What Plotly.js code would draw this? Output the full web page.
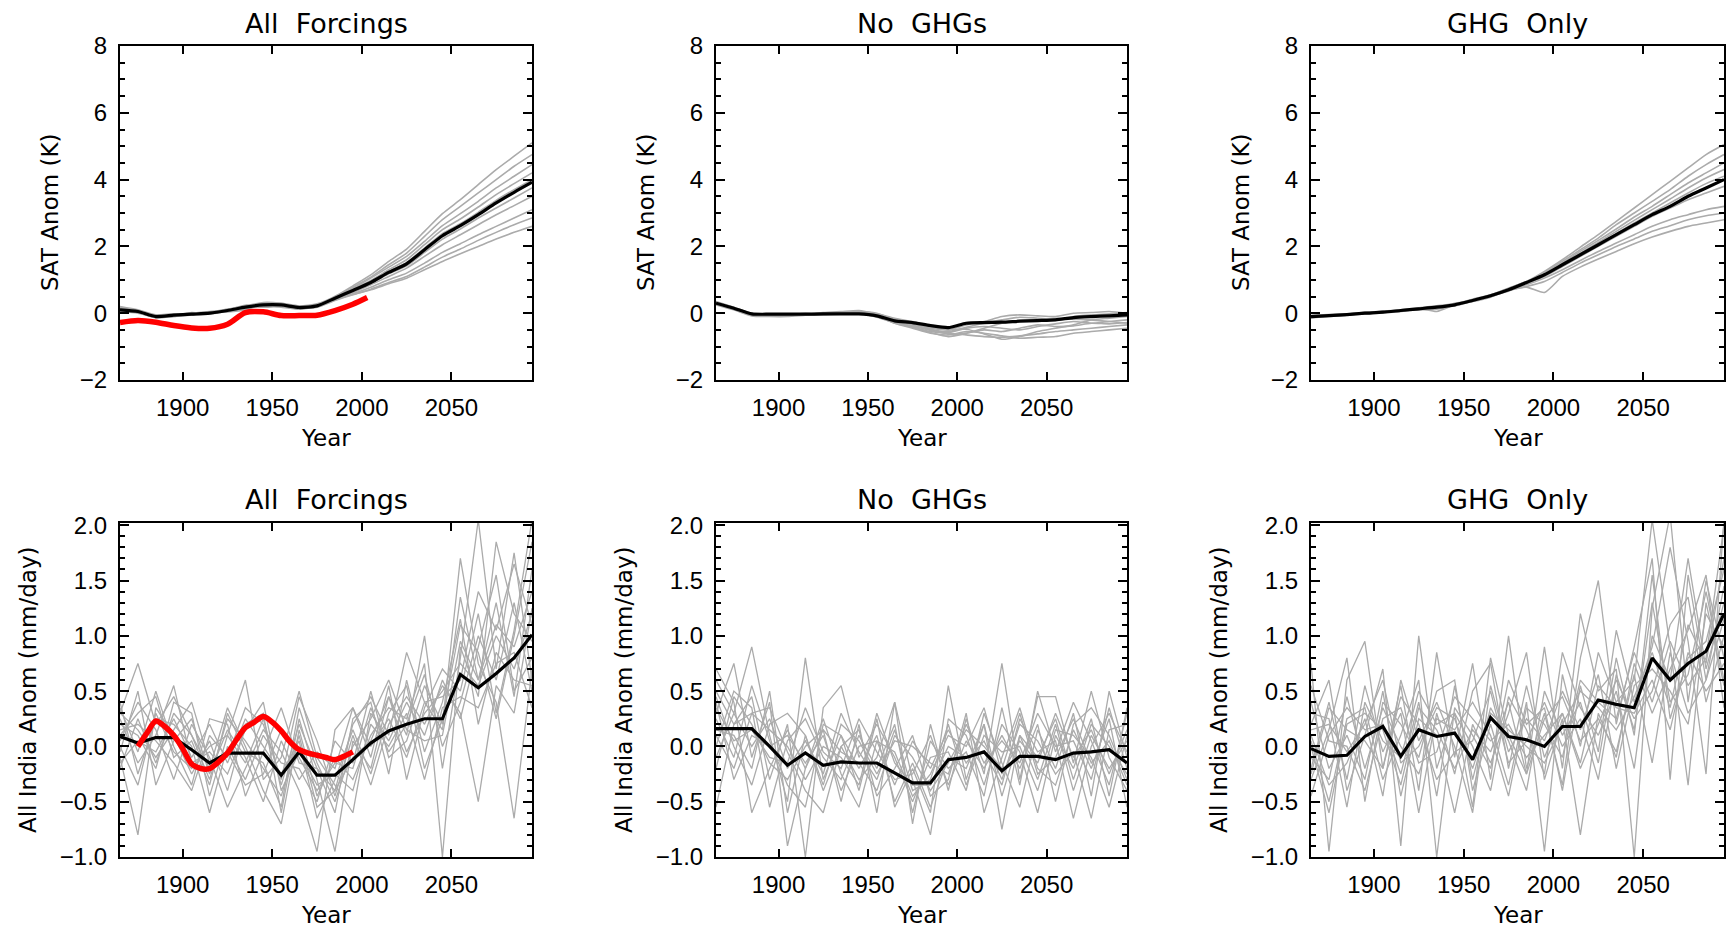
<!DOCTYPE html>
<html>
<head>
<meta charset="utf-8">
<script src="https://cdn.plot.ly/plotly-3.0.1.min.js"></script>
<style>html,body{margin:0;padding:0;background:#fff;}#chart{width:1727px;height:930px;}</style>
</head>
<body>
<div id="chart"></div>
<script>
// Decade centres
const years = [1865,1875,1885,1895,1905,1915,1925,1935,1945,1955,1965,1975,1985,1995,2005,2015,2025,2035,2045,2055,2065,2075,2085,2095];
const obsTempYears = [1865,1875,1885,1895,1905,1915,1925,1935,1945,1955,1965,1975,1985,1995,2003];
const obsRainYears = [1875,1880,1885,1890,1895,1900,1905,1910,1915,1920,1925,1930,1935,1940,1945,1950,1955,1960,1965,1970,1975,1980,1985,1990,1995];

const panelTitles = ["All\u00a0\u00a0Forcings", "No\u00a0\u00a0GHGs", "GHG\u00a0\u00a0Only"];
const tempAxisTitle = "SAT Anom (K)";
const rainAxisTitle = "All India Anom (mm/day)";
const xAxisTitle = "Year";
const xTickVals = [1900, 1950, 2000, 2050];

// ---------- Surface air temperature (top row) ----------
const afTempMean = [0.10,0.05,-0.10,-0.06,-0.03,0.00,0.08,0.18,0.25,0.25,0.17,0.22,0.45,0.68,0.92,1.22,1.48,1.90,2.32,2.62,2.95,3.30,3.62,3.92];
const afTempObs = [-0.28,-0.22,-0.27,-0.37,-0.44,-0.45,-0.33,0.02,0.04,-0.07,-0.07,-0.06,0.08,0.27,0.47];
const afTempMembers = [
 [0.18,0.08,-0.08,-0.05,0.00,0.02,0.12,0.22,0.32,0.30,0.22,0.28,0.50,0.82,1.15,1.55,1.92,2.45,2.98,3.40,3.85,4.30,4.70,5.10],
 [0.05,0.00,-0.12,-0.10,-0.05,0.03,0.05,0.15,0.22,0.28,0.20,0.25,0.48,0.78,1.08,1.45,1.80,2.30,2.80,3.20,3.60,4.00,4.40,4.75],
 [0.20,0.10,-0.05,-0.02,-0.06,-0.02,0.10,0.20,0.28,0.20,0.15,0.20,0.50,0.75,1.05,1.38,1.70,2.15,2.62,2.98,3.35,3.75,4.10,4.45],
 [0.08,0.02,-0.14,-0.08,0.00,0.05,0.06,0.14,0.30,0.25,0.12,0.20,0.44,0.72,0.98,1.30,1.60,2.05,2.50,2.82,3.18,3.55,3.88,4.20],
 [0.12,0.06,-0.08,-0.04,-0.02,-0.03,0.10,0.24,0.20,0.22,0.20,0.18,0.46,0.70,0.95,1.25,1.52,1.95,2.38,2.68,3.02,3.38,3.70,4.00],
 [0.06,0.04,-0.12,-0.06,-0.04,0.02,0.04,0.10,0.26,0.30,0.18,0.24,0.42,0.65,0.90,1.18,1.42,1.82,2.22,2.52,2.85,3.15,3.45,3.75],
 [0.15,0.08,-0.06,-0.10,-0.02,0.00,0.08,0.20,0.18,0.20,0.14,0.22,0.44,0.62,0.85,1.10,1.35,1.70,2.05,2.35,2.65,2.95,3.22,3.50],
 [0.10,0.02,-0.10,-0.05,-0.05,0.04,0.12,0.16,0.22,0.26,0.16,0.20,0.40,0.58,0.78,1.00,1.20,1.50,1.82,2.08,2.35,2.60,2.85,3.10],
 [0.14,0.06,-0.10,-0.08,0.02,-0.02,0.06,0.18,0.24,0.18,0.12,0.25,0.42,0.56,0.72,0.92,1.10,1.38,1.68,1.92,2.18,2.42,2.65,2.85],
 [0.04,0.03,-0.12,-0.04,-0.03,0.01,0.09,0.12,0.28,0.24,0.20,0.18,0.38,0.55,0.70,0.88,1.05,1.30,1.55,1.78,2.00,2.22,2.42,2.60]
];

const ngTempMean = [0.30,0.15,-0.02,-0.03,-0.03,-0.03,-0.02,-0.02,-0.02,-0.08,-0.23,-0.28,-0.37,-0.43,-0.30,-0.28,-0.27,-0.24,-0.22,-0.20,-0.13,-0.10,-0.08,-0.05];
const ngTempMembers = [
 [0.30,0.12,-0.05,-0.08,-0.05,-0.02,0.00,0.00,0.05,0.00,-0.20,-0.35,-0.50,-0.60,-0.65,-0.70,-0.72,-0.68,-0.62,-0.55,-0.50,-0.45,-0.40,-0.35],
 [0.25,0.10,-0.08,-0.10,-0.10,-0.06,-0.03,0.02,0.00,-0.05,-0.30,-0.45,-0.60,-0.65,-0.55,-0.60,-0.68,-0.75,-0.72,-0.70,-0.60,-0.55,-0.50,-0.45],
 [0.35,0.18,0.00,-0.05,-0.02,-0.04,0.02,0.05,0.08,-0.02,-0.15,-0.25,-0.40,-0.50,-0.35,-0.25,-0.10,-0.05,-0.08,-0.10,0.00,0.02,0.05,0.00],
 [0.28,0.14,-0.04,-0.06,-0.08,-0.02,-0.05,-0.03,0.00,-0.12,-0.28,-0.40,-0.55,-0.58,-0.45,-0.40,-0.45,-0.50,-0.40,-0.32,-0.25,-0.30,-0.25,-0.20],
 [0.32,0.16,-0.02,-0.02,-0.04,0.00,-0.02,0.03,0.02,-0.08,-0.20,-0.30,-0.48,-0.55,-0.42,-0.30,-0.20,-0.12,-0.15,-0.18,-0.10,-0.05,-0.02,0.02],
 [0.27,0.11,-0.06,-0.07,-0.06,-0.05,-0.04,-0.02,-0.03,-0.10,-0.25,-0.38,-0.52,-0.62,-0.60,-0.50,-0.55,-0.45,-0.35,-0.40,-0.38,-0.30,-0.32,-0.28],
 [0.33,0.17,-0.01,-0.04,-0.02,-0.03,0.01,0.01,0.04,-0.06,-0.22,-0.32,-0.45,-0.50,-0.48,-0.62,-0.78,-0.70,-0.55,-0.45,-0.35,-0.20,-0.15,-0.10],
 [0.29,0.13,-0.03,-0.05,-0.07,-0.04,-0.01,0.00,-0.01,-0.10,-0.30,-0.42,-0.58,-0.70,-0.60,-0.45,-0.30,-0.22,-0.20,-0.15,-0.18,-0.20,-0.25,-0.30]
];

const ghgTempMean = [-0.10,-0.07,-0.04,0.00,0.03,0.08,0.13,0.18,0.25,0.38,0.52,0.70,0.92,1.15,1.45,1.75,2.05,2.35,2.65,2.95,3.20,3.50,3.75,4.00];
const ghgTempMembers = [
 [-0.08,-0.05,-0.02,0.02,0.06,0.10,0.16,0.22,0.28,0.42,0.55,0.75,0.95,1.25,1.60,1.98,2.35,2.75,3.15,3.55,3.95,4.35,4.75,5.05],
 [-0.12,-0.10,-0.06,-0.02,0.02,0.06,0.12,0.20,0.22,0.40,0.50,0.72,0.92,1.20,1.55,1.90,2.25,2.65,3.00,3.35,3.70,4.10,4.45,4.75],
 [-0.06,-0.04,-0.03,0.03,0.05,0.10,0.15,0.16,0.30,0.36,0.55,0.68,0.90,1.18,1.50,1.85,2.18,2.52,2.88,3.20,3.55,3.90,4.20,4.50],
 [-0.14,-0.09,-0.05,0.01,0.02,0.07,0.10,0.12,0.24,0.40,0.54,0.74,0.95,1.15,1.48,1.80,2.12,2.45,2.78,3.10,3.42,3.75,4.05,4.30],
 [-0.10,-0.06,-0.02,-0.01,0.04,0.09,0.14,0.20,0.26,0.35,0.48,0.70,0.88,1.12,1.42,1.72,2.05,2.38,2.70,3.00,3.30,3.60,3.88,4.10],
 [-0.09,-0.08,-0.06,0.00,0.01,0.05,0.15,0.05,0.25,0.38,0.52,0.66,0.90,1.10,1.40,1.70,2.00,2.30,2.60,2.90,3.15,3.40,3.60,3.80],
 [-0.11,-0.06,-0.03,0.02,0.05,0.08,0.12,0.20,0.22,0.36,0.50,0.70,0.85,1.05,1.30,1.58,1.85,2.10,2.35,2.60,2.80,2.95,3.10,3.20],
 [-0.12,-0.08,-0.04,-0.02,0.03,0.08,0.11,0.17,0.27,0.39,0.53,0.68,0.80,0.95,1.22,1.50,1.75,2.00,2.22,2.45,2.62,2.80,2.92,3.00],
 [-0.10,-0.07,-0.05,0.01,0.02,0.09,0.14,0.19,0.24,0.37,0.50,0.69,0.78,0.62,1.10,1.38,1.62,1.85,2.08,2.28,2.45,2.60,2.70,2.80]
];

// ---------- All India rainfall (bottom row) ----------
const afRainMean = [0.09,0.03,0.08,0.08,-0.03,-0.15,-0.06,-0.06,-0.06,-0.26,-0.05,-0.26,-0.26,-0.12,0.03,0.14,0.20,0.25,0.25,0.65,0.53,0.66,0.80,1.01];
const afRainObs = [0.00,0.12,0.23,0.18,0.10,-0.02,-0.16,-0.20,-0.20,-0.14,-0.06,0.06,0.17,0.22,0.27,0.22,0.14,0.04,-0.03,-0.06,-0.08,-0.10,-0.12,-0.09,-0.05];
const afRainMembers = [
 [0.30,0.75,0.20,0.45,0.10,-0.30,0.25,0.05,-0.20,-0.45,0.10,-0.55,-0.40,0.20,0.45,0.10,0.85,0.40,0.15,1.35,0.60,1.10,0.90,1.40],
 [-0.10,-0.80,0.35,0.10,-0.25,0.05,-0.40,0.20,0.30,-0.60,0.25,-0.30,-0.95,0.05,-0.20,0.45,0.10,1.00,-0.20,0.80,2.05,0.70,1.75,0.60],
 [0.20,0.10,-0.20,0.40,0.30,-0.45,0.10,0.60,-0.30,-0.10,0.50,-0.10,-0.35,-0.60,0.30,0.05,0.40,0.10,0.60,0.25,0.90,1.55,0.50,0.80],
 [0.05,0.40,0.15,-0.30,0.20,-0.10,-0.55,-0.20,0.15,-0.05,-0.40,-0.95,0.15,0.35,-0.10,0.55,-0.30,0.35,0.70,0.50,1.20,0.30,1.05,2.05],
 [0.35,-0.05,0.50,0.00,-0.35,0.25,0.20,-0.45,-0.05,0.35,-0.15,-0.20,-0.60,0.25,0.40,-0.25,0.60,-0.05,0.40,1.15,0.20,0.85,0.60,0.55],
 [-0.20,0.25,-0.15,0.30,0.10,-0.20,0.35,0.00,-0.40,-0.70,0.15,-0.45,-0.10,-0.30,0.10,0.35,0.25,0.75,-1.00,0.90,0.45,1.85,1.20,0.95],
 [0.15,0.20,0.05,-0.15,-0.40,0.10,-0.10,0.35,0.20,-0.30,0.45,0.05,-0.45,0.10,-0.35,0.20,0.45,0.20,0.55,0.30,-0.50,0.55,0.30,1.25],
 [0.40,-0.25,0.25,0.20,0.00,-0.60,0.00,-0.30,0.10,-0.15,-0.20,-0.50,0.05,-0.15,0.50,-0.10,0.05,0.55,0.20,1.70,0.75,0.40,-0.65,0.70],
 [-0.05,0.50,-0.35,0.05,0.25,-0.25,0.15,-0.10,-0.50,0.05,-0.30,-0.05,-0.20,0.35,0.00,0.25,-0.10,0.40,0.45,0.60,1.40,1.05,1.65,1.10],
 [0.25,-0.15,0.10,0.55,-0.15,-0.05,-0.25,0.15,0.40,-0.40,-0.05,-0.35,-0.25,-0.40,0.20,0.00,0.30,-0.30,0.35,0.45,0.35,0.75,0.85,0.35],
 [0.10,0.30,0.45,-0.10,0.05,-0.35,0.30,-0.05,-0.15,-0.55,0.35,-0.15,-0.50,0.00,0.25,0.60,0.15,0.05,0.10,0.95,0.60,1.30,0.45,1.60],
 [-0.15,0.05,-0.05,0.25,-0.10,0.20,-0.15,0.25,0.00,-0.25,0.05,-0.65,-0.30,0.15,-0.25,0.30,0.55,-0.20,0.25,1.10,0.85,0.25,1.00,1.85],
 [0.30,0.15,-0.10,0.15,0.40,-0.15,-0.05,-0.35,-0.25,0.15,-0.10,-0.40,-0.15,-0.20,0.35,-0.05,0.20,0.65,0.00,0.40,1.00,0.60,1.30,0.50],
 [0.00,-0.35,0.30,-0.05,-0.20,0.00,0.10,-0.15,0.25,-0.35,0.20,-0.20,-0.40,-0.10,0.05,0.45,-0.05,0.30,0.50,0.75,0.55,1.00,0.70,1.20]
];

const ngRainMean = [0.16,0.16,0.16,0.00,-0.17,-0.06,-0.17,-0.14,-0.15,-0.15,-0.24,-0.33,-0.33,-0.12,-0.10,-0.05,-0.22,-0.09,-0.09,-0.12,-0.06,-0.05,-0.03,-0.15];
const ngRainMembers = [
 [0.60,0.30,0.90,0.10,-0.50,0.80,-0.30,0.10,-0.40,0.25,-0.55,-0.20,-0.60,0.55,-0.30,0.20,-0.45,0.10,-0.30,0.20,-0.40,0.10,-0.20,0.05],
 [0.30,0.75,-0.10,0.40,-0.90,-0.20,0.15,-0.50,0.20,-0.60,0.40,-0.70,0.20,-0.40,0.25,-0.25,0.75,-0.30,0.45,0.45,-0.15,0.50,-0.10,-0.40],
 [-0.55,0.20,0.45,-0.30,0.20,-1.00,0.35,0.55,-0.10,0.20,-0.10,-0.50,-0.10,-0.05,-0.40,0.30,-0.15,-0.55,0.15,-0.20,0.30,-0.45,0.50,-0.10],
 [0.10,-0.20,0.30,0.35,-0.05,-0.40,-0.60,0.00,-0.30,-0.10,0.40,-0.30,-0.80,0.25,0.10,-0.35,0.20,-0.05,-0.60,0.10,-0.20,0.25,-0.45,0.35],
 [0.45,0.00,-0.35,0.20,0.30,0.10,-0.40,0.00,0.15,-0.45,-0.20,0.10,-0.45,-0.30,0.30,-0.60,-0.10,0.35,-0.20,-0.35,0.15,-0.20,0.25,-0.55],
 [0.70,0.40,-0.60,-0.20,0.15,-0.20,0.25,-0.25,-0.55,0.05,-0.35,0.05,-0.20,0.15,-0.15,0.05,-0.30,0.20,0.05,-0.25,-0.05,-0.65,0.15,0.20],
 [0.00,0.50,0.35,-0.55,0.05,0.25,-0.10,-0.30,0.10,-0.20,0.20,-0.60,0.05,-0.20,-0.05,-0.45,0.35,-0.35,0.50,-0.05,0.40,0.05,-0.35,0.30],
 [0.25,-0.10,0.55,0.05,-0.35,-0.55,0.20,0.10,-0.20,0.10,-0.50,-0.15,-0.55,-0.10,-0.20,0.20,-0.75,0.10,-0.10,0.25,-0.30,0.20,0.00,-0.25],
 [-0.10,0.30,0.00,0.25,-0.20,0.05,-0.25,0.30,-0.05,-0.30,0.15,-0.40,-0.30,0.20,-0.35,0.10,-0.05,0.00,-0.40,0.15,0.10,-0.10,-0.55,0.10],
 [0.35,0.05,0.15,-0.10,-0.15,0.35,-0.05,-0.20,0.25,-0.05,-0.30,-0.25,0.10,-0.35,0.05,-0.20,0.10,-0.20,0.20,-0.50,0.20,0.35,0.10,-0.30],
 [0.50,0.20,0.30,0.15,0.00,-0.30,0.00,-0.10,-0.35,0.30,-0.15,-0.35,-0.35,0.00,-0.10,-0.05,-0.35,0.25,-0.05,0.05,-0.65,0.00,0.30,-0.05],
 [0.15,0.10,-0.20,0.50,-0.60,0.10,-0.35,0.20,0.05,-0.25,0.05,0.00,-0.15,-0.25,0.20,-0.15,0.05,-0.15,0.30,0.00,0.05,-0.30,0.35,-0.20],
 [0.40,-0.30,0.10,0.00,0.10,-0.15,0.10,-0.40,0.00,0.05,-0.05,-0.45,-0.25,0.10,0.00,0.35,-0.25,0.05,-0.15,0.30,-0.10,0.15,-0.25,0.15],
 [-0.20,0.45,0.20,-0.15,-0.30,0.00,0.15,-0.05,-0.15,-0.40,0.10,-0.10,-0.40,-0.15,0.15,0.00,-0.20,0.30,-0.25,-0.10,0.25,-0.15,0.05,-0.35]
];

const ghgRainMean = [-0.02,-0.09,-0.08,0.09,0.18,-0.09,0.15,0.09,0.12,-0.12,0.26,0.09,0.06,0.00,0.18,0.18,0.42,0.38,0.35,0.80,0.60,0.75,0.86,1.20];
const ghgRainMembers = [
 [0.75,-0.95,0.60,0.95,-0.20,0.55,-0.40,0.85,-0.10,0.75,-0.30,1.00,-0.20,0.30,-0.35,0.80,1.50,0.20,0.90,1.70,-0.30,1.55,0.60,1.45],
 [0.20,0.60,-0.40,0.10,0.70,-0.90,1.00,-0.20,0.30,-0.55,0.80,0.10,-0.25,0.90,-0.20,1.20,0.50,0.70,-1.00,1.25,2.10,0.40,1.50,0.80],
 [-0.30,0.15,0.80,-0.50,0.40,0.20,-0.10,0.50,0.60,-0.40,0.20,-0.35,0.40,-0.95,0.65,0.00,0.85,0.40,0.60,2.05,0.90,-0.35,1.30,0.55],
 [0.05,-0.50,0.25,0.35,-0.30,0.10,0.60,-1.00,0.35,0.10,-0.20,0.60,0.20,0.35,-0.40,0.55,-0.05,1.05,0.40,0.90,1.80,0.95,-0.25,2.05],
 [-0.20,0.40,-0.30,0.55,-0.05,0.30,-0.60,0.30,-0.25,0.50,0.75,-0.20,0.55,-0.10,0.30,-0.20,0.20,0.60,0.25,0.50,1.10,1.35,0.40,1.00],
 [0.40,-0.20,0.10,-0.30,0.50,-0.45,0.25,0.10,-0.60,0.20,-0.15,0.30,0.85,-0.30,0.25,-0.80,0.30,-0.10,0.75,0.30,0.70,1.05,1.55,0.35],
 [-0.45,0.10,0.35,0.15,0.20,-0.25,0.40,-0.45,0.55,-0.30,0.35,0.05,-0.40,0.50,0.10,0.40,-0.15,0.80,0.10,1.55,0.25,0.80,0.95,1.60],
 [0.10,-0.35,-0.15,0.25,-0.45,0.60,0.05,0.40,0.00,-0.60,0.55,-0.05,0.25,0.05,0.50,0.15,0.65,-0.20,0.55,0.70,0.50,0.20,1.20,0.90],
 [0.30,0.25,-0.55,0.40,0.05,-0.10,0.50,0.20,0.30,0.00,-0.40,0.45,0.15,-0.25,0.85,0.35,0.10,0.50,-0.20,1.00,0.60,1.70,0.70,1.30],
 [-0.10,-0.30,0.45,-0.20,0.35,0.00,-0.25,0.25,0.15,0.40,0.10,-0.45,0.35,0.20,-0.10,0.60,0.40,0.25,0.85,0.40,0.95,0.55,0.80,2.00],
 [0.55,0.05,0.00,-0.40,0.25,0.35,-0.15,-0.05,0.45,0.25,0.05,0.20,-0.10,0.10,0.30,-0.15,0.55,0.35,0.30,0.60,0.15,0.85,0.50,0.75],
 [-0.25,0.35,0.15,0.05,-0.20,0.45,0.20,-0.30,-0.05,0.05,0.50,-0.15,0.05,0.40,0.00,0.25,-0.30,0.65,0.15,1.30,0.40,0.65,1.40,0.60],
 [0.00,-0.60,0.20,0.30,0.15,-0.35,0.35,0.15,-0.20,0.15,-0.05,0.40,-0.25,0.25,0.45,0.05,0.25,-0.05,0.65,-0.15,0.85,0.30,0.60,1.15],
 [0.15,0.20,-0.05,0.20,0.60,-0.15,0.00,0.35,0.25,-0.20,0.30,0.15,0.00,-0.15,0.20,0.50,0.35,0.15,0.45,0.85,0.35,1.10,0.75,1.70]
];

// ---------- Build figure ----------
const W = 1727, H = 930;
const GRAY = '#ababab';
const FONT = 'Liberation Sans, Arial, sans-serif';
const TFONT = 'DejaVu Sans, sans-serif';

// panel boxes in pixels: [left, right] columns and [top, bottom] rows
const colPx = [[120, 532], [716, 1127], [1311, 1724]];
const rowPx = [[46, 380], [523, 857]];

const panels = [
  {row:0, col:0, mean:afTempMean, members:afTempMembers, obsX:obsTempYears, obs:afTempObs, kind:'temp'},
  {row:0, col:1, mean:ngTempMean, members:ngTempMembers, kind:'temp'},
  {row:0, col:2, mean:ghgTempMean, members:ghgTempMembers, kind:'temp'},
  {row:1, col:0, mean:afRainMean, members:afRainMembers, obsX:obsRainYears, obs:afRainObs, kind:'rain'},
  {row:1, col:1, mean:ngRainMean, members:ngRainMembers, kind:'rain'},
  {row:1, col:2, mean:ghgRainMean, members:ghgRainMembers, kind:'rain'}
];

const traces = [];
const layout = {
  width: W, height: H,
  margin: {l:0, r:0, t:0, b:0},
  paper_bgcolor: '#fff', plot_bgcolor: '#fff',
  showlegend: false,
  font: {family: FONT, color: '#000'},
  annotations: []
};

panels.forEach((p, i) => {
  const n = i + 1;
  const xa = 'x' + (n === 1 ? '' : n), ya = 'y' + (n === 1 ? '' : n);
  const xKey = 'xaxis' + (n === 1 ? '' : n), yKey = 'yaxis' + (n === 1 ? '' : n);
  const temp = p.kind === 'temp';
  const shape = temp ? 'spline' : 'linear';
  p.members.forEach(m => traces.push({
    x: years, y: m, xaxis: xa, yaxis: ya, type: 'scatter', mode: 'lines',
    line: {color: GRAY, width: temp ? 1.6 : 1.3, shape: shape, smoothing: 0.6}, hoverinfo: 'skip'
  }));
  traces.push({x: years, y: p.mean, xaxis: xa, yaxis: ya, type: 'scatter', mode: 'lines',
    line: {color: '#000', width: 3.2, shape: shape, smoothing: 0.6}});
  if (p.obs) traces.push({x: p.obsX, y: p.obs, xaxis: xa, yaxis: ya, type: 'scatter', mode: 'lines',
    line: {color: '#ff0000', width: 5.5, shape: 'spline', smoothing: 0.8}});

  const c = colPx[p.col], r = rowPx[p.row];
  const common = {
    showline: true, linecolor: '#000', linewidth: 2, mirror: 'allticks',
    ticks: 'inside', tickcolor: '#000', tickwidth: 2,
    showgrid: false, zeroline: false,
    tickfont: {family: FONT, size: 24, color: '#000'}
  };
  layout[xKey] = Object.assign({}, common, {
    domain: [c[0] / W, c[1] / W], anchor: ya,
    range: [1865, 2095], tickvals: xTickVals, ticklen: 8,
    ticklabelstandoff: 5
  });
  layout[yKey] = Object.assign({}, common, {
    domain: [1 - r[1] / H, 1 - r[0] / H], anchor: xa,
    range: temp ? [-2, 8] : [-1, 2.02],
    tick0: 0, dtick: temp ? 2 : 0.5, tickformat: temp ? 'd' : '.1f',
    ticklen: 9, ticklabelstandoff: 6,
    minor: {ticks: 'inside', dtick: temp ? 0.5 : 0.1, ticklen: 5, tickwidth: 2, tickcolor: '#000', showgrid: false}
  });

  const cx = (c[0] + c[1]) / 2 / W;
  // panel title
  layout.annotations.push({text: panelTitles[p.col], xref: 'paper', yref: 'paper',
    x: cx, y: 1 - (p.row === 0 ? 23 : 500) / H, xanchor: 'center', yanchor: 'middle',
    showarrow: false, font: {family: TFONT, size: 27, color: '#000'}});
  // x axis title
  layout.annotations.push({text: xAxisTitle, xref: 'paper', yref: 'paper',
    x: cx, y: 1 - (p.row === 0 ? 438 : 915) / H, xanchor: 'center', yanchor: 'middle',
    showarrow: false, font: {family: TFONT, size: 23, color: '#000'}});
  // y axis title
  layout.annotations.push({text: temp ? tempAxisTitle : rainAxisTitle, xref: 'paper', yref: 'paper',
    x: (c[0] - (temp ? 70 : 92)) / W, y: 1 - (r[0] + r[1]) / 2 / H, xanchor: 'center', yanchor: 'middle',
    textangle: -90, showarrow: false, font: {family: TFONT, size: 23, color: '#000'}});
});

Plotly.newPlot('chart', traces, layout, {displayModeBar: false, staticPlot: true});
</script>
</body>
</html>
